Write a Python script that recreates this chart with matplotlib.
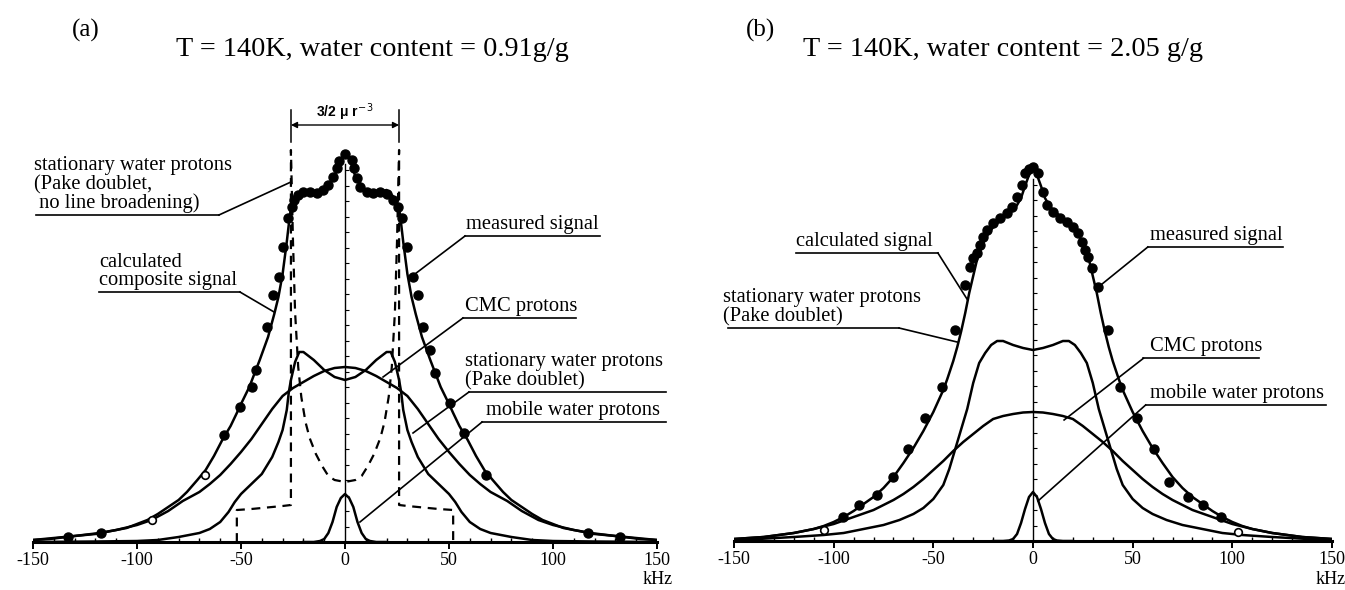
import numpy as np
import matplotlib
matplotlib.use("Agg")
import matplotlib.pyplot as plt
from matplotlib.ticker import MultipleLocator, FixedLocator

plt.rcParams["font.family"] = ["Liberation Serif", "DejaVu Serif"]
plt.rcParams["axes.unicode_minus"] = False

# Intensities are in arbitrary units.
# Symmetric lines are given for kHz >= 0 only and mirrored when drawn.

# ---- (a) T = 140K, water content = 0.91 g/g
a_comp_khz = [0, 3, 5, 9, 12, 16, 20, 23, 25, 26, 27, 28, 30, 32, 34, 37, 41, 46, 50, 52,
              55, 59, 63, 67, 71, 76, 80, 85, 90, 95, 100, 105, 110, 118, 126, 134, 142, 150]
a_comp = [389, 380, 365, 354, 349, 350, 352, 346, 340, 334, 318, 300, 268, 245, 228, 205, 182, 155, 138, 129,
          116, 102, 86, 72, 62, 50, 42, 35, 28, 22, 18, 14, 12, 9, 7, 5, 3, 2]

a_cmc_khz = [0, 5, 10, 15, 20, 25, 30, 35, 40, 45, 50, 55, 60, 65, 70, 78, 85, 93, 100, 110, 120, 130, 140, 150]
a_cmc = [175, 174, 171, 166, 160, 154, 146, 133, 118, 103, 90, 78, 67, 58, 50, 41, 31, 22, 17, 12, 8, 6, 4, 2]

a_pake_khz = [0, 5, 10, 15, 20, 22, 24, 26, 27, 28, 30, 32, 35, 40, 45, 50, 53, 56, 60, 65, 70, 80, 90, 100, 120, 150]
a_pake = [162, 165, 172, 182, 190, 190, 180, 162, 150, 132, 112, 100, 85, 68, 58, 48, 40, 30, 20, 13, 9, 5, 2, 1, 0.5, 0]

a_mobile_khz = [0, 2, 4, 6, 8, 10, 12, 15, 20]
a_mobile = [48, 44, 35, 20, 9, 3, 1, 0, 0]

# Pake doublet without line broadening (dashed), full path
a_ideal_khz = [-52, -52, -45, -40, -35, -30, -26, -26, -25, -24, -22.5, -21, -19, -17, -14, -11, -8, -5, 0,
               5, 8, 11, 14, 17, 19, 21, 22.5, 24, 25, 26, 26, 30, 35, 40, 45, 52, 52]
a_ideal = [0, 32, 33, 34, 35, 36, 37, 392, 300, 230, 175, 145, 120, 104, 88, 76, 66, 62, 60,
           62, 66, 76, 88, 104, 120, 145, 175, 230, 300, 392, 37, 36, 35, 34, 33, 32, 0]

a_meas_khz = [-133, -117.5, -58, -50.5, -44.5, -43, -37.6, -34.5, -31.7, -30, -27.2, -25.6, -24.5, -22.4, -20,
              -16.8, -13.6, -10.4, -8, -5.6, -4, -2.7, 0, 3.2, 4.4, 5.6, 7.2, 10.4, 13.6, 16.8, 20, 23.2,
              25.6, 27.2, 29.6, 32.8, 35.2, 37.6, 40.9, 43.3, 50.5, 57.2, 67.8, 117, 132]
a_meas = [5, 9, 107, 135, 155, 172, 215, 247, 265, 295, 324, 335, 342, 347, 350,
          350, 349, 352, 357, 365, 374, 381, 388, 382, 374, 364, 355, 350, 349, 350, 348, 342,
          335, 324, 295, 265, 247, 215, 192, 169, 139, 109, 67, 9, 5]
a_open_khz = [-92.8, -67.4]
a_open = [22, 67]

# ---- (b) T = 140K, water content = 2.05 g/g
b_comp_khz = [0, 2, 4, 6, 8, 10, 13, 16, 19, 22, 25, 28, 30, 32, 34, 36, 38, 40, 43, 45,
              50, 55, 60, 65, 70, 75, 80, 85, 90, 95, 100, 105, 110, 120, 135, 150]
b_comp = [374, 366, 355, 343, 336, 331, 326, 321, 316, 309, 298, 282, 265, 248, 228, 210, 194, 180, 162, 151,
          129, 110, 93, 78, 64, 53, 44, 37, 30, 24, 19, 15, 12, 8, 4, 2]

b_cmc_khz = [0, 5, 10, 15, 20, 25, 30, 35, 40, 45, 50, 55, 60, 65, 70, 80, 90, 100, 110, 120, 135, 150]
b_cmc = [129, 128.5, 127, 125, 122, 115, 107, 99, 90, 80, 71, 62, 54, 47, 41, 31, 24, 17, 12, 8, 4, 2]

b_pake_khz = [0, 5, 10, 15, 18, 21, 24, 27, 30, 33, 36, 39, 42, 45, 50, 55, 60, 67, 75, 85, 95, 105, 120, 138, 150]
b_pake = [191, 193, 196, 200, 200, 196, 188, 178, 158, 132, 112, 92, 72, 56, 42, 33, 27, 21, 16, 12, 8, 6, 4, 2, 1]

b_mobile_khz = [0, 2, 4, 6, 8, 10, 12, 15, 20]
b_mobile = [49, 44, 32, 18, 7, 2, 0.5, 0, 0]

b_meas_khz = [-95.1, -87.2, -78.3, -70.4, -62.9, -54.2, -45.7, -39.1, -34.1, -31.6, -29.9, -28.3, -26.6, -24.9,
              -22.9, -19.9, -16.6, -13.2, -10.7, -8.2, -5.7, -4, -2, 0, 2.7, 4.9, 6.9, 10.2, 13.5, 16.9,
              20.2, 22.7, 24.4, 26.1, 27.4, 29.5, 32.8, 37.8, 43.6, 52.2, 60.8, 68.3, 78, 85.5, 94.1]
b_meas = [24, 36, 46, 64, 92, 123, 154, 211, 256, 274, 283, 288, 296, 304,
          311, 318, 323, 328, 334, 344, 356, 368, 372, 374, 368, 349, 336, 329, 323, 319,
          314, 308, 299, 291, 284, 273, 254, 211, 154, 123, 92, 59, 44, 36, 24]
b_open_khz = [-104.8, 102.7]
b_open = [11, 9]

x_ticks = [-150, -100, -50, 0, 50, 100, 150]

W, H = 1345, 590
LW = 1.8
LABEL_FS = 14.8


def mirror(khz, val):
    khz = np.asarray(khz, float)
    val = np.asarray(val, float)
    return np.concatenate([-khz[:0:-1], khz]), np.concatenate([val[:0:-1], val])


def fig_xy(x, y):
    # pixel position in the 1345x590 picture -> figure fraction
    return x / W, 1 - y / H


def setup_axes(fig, left, right, base, top_center):
    ax = fig.add_axes([left / W, (H - base) / H, (right - left) / W, 442 / H])
    ax.set_xlim(-150, 150)
    ax.set_ylim(0, 442)
    for s in ["top", "right"]:
        ax.spines[s].set_visible(False)
    ax.spines["bottom"].set_linewidth(2.2)
    ax.spines["left"].set_position(("data", 0))
    ax.spines["left"].set_bounds(0, top_center)
    ax.spines["left"].set_linewidth(1.0)
    ax.xaxis.set_major_locator(FixedLocator(x_ticks))
    ax.xaxis.set_minor_locator(MultipleLocator(10))
    ax.set_xticklabels([str(t) for t in x_ticks])
    ax.tick_params(axis="x", which="major", direction="out", length=5, width=1.4,
                   labelsize=13, pad=2)
    ax.tick_params(axis="x", which="minor", direction="in", length=3, width=1.0)
    ax.yaxis.set_major_locator(FixedLocator(np.arange(15.5, top_center, 15.5)))
    ax.tick_params(axis="y", direction="in", length=3, width=0.8, labelleft=False)
    ax.patch.set_visible(False)
    return ax


def draw_lines(ax, curves):
    for khz, val in curves:
        x, y = mirror(khz, val)
        ax.plot(x, y, color="black", lw=LW, solid_joinstyle="round", zorder=3)


def draw_points(ax, khz, val, okhz, oval):
    ax.plot(khz, val, "o", color="black", ms=6.5, zorder=4, clip_on=False)
    ax.plot(okhz, oval, "o", mfc="white", mec="black", mew=1.2, ms=5.5, zorder=4)


def label(ax, text, x_text, y_line, x0, x1, tip, side):
    # underlined text with a leader line to the curve
    ax.text(x_text, y_line + 2, text, ha="left", va="bottom", fontsize=LABEL_FS,
            linespacing=0.95, clip_on=False)
    ax.plot([x0, x1], [y_line, y_line], color="black", lw=1.2, clip_on=False)
    start = x1 if side == "left" else x0
    ax.plot([start, tip[0]], [y_line, tip[1]], color="black", lw=1.2, clip_on=False)


fig = plt.figure(figsize=(W / 100, H / 100), dpi=100)

# ---------------- panel (a)
ax = setup_axes(fig, 33, 657, 542, 378)
draw_lines(ax, [(a_comp_khz, a_comp), (a_cmc_khz, a_cmc), (a_pake_khz, a_pake),
                (a_mobile_khz, a_mobile)])
ax.plot(a_ideal_khz, a_ideal, color="black", lw=1.6, linestyle=(0, (4, 3)), zorder=3)
draw_points(ax, a_meas_khz, a_meas, a_open_khz, a_open)

# 3/2 mu r^-3 bracket
for xb in (-26, 26):
    ax.plot([xb, xb], [400, 432], color="black", lw=1.1, clip_on=False)
ax.annotate("", xy=(-26, 417), xytext=(26, 417),
            arrowprops=dict(arrowstyle="<|-|>", lw=1.0, color="black",
                            shrinkA=0, shrinkB=0, mutation_scale=9))
ax.text(0, 430, "3/2 \u03bc r$^{-\\,3}$", ha="center", va="center", fontsize=10,
        family=["Liberation Sans", "DejaVu Sans"], fontweight="bold", clip_on=False)

label(ax, "stationary water protons\n(Pake doublet,\n no line broadening)",
      -149.5, 327, -148.6, -60.6, (-26, 360), "left")
label(ax, "calculated\ncomposite signal", -118.3, 250, -118.3, -50.5, (-34.1, 230), "left")
label(ax, "measured signal", 58.2, 306, 57.7, 122.6, (33.0, 267), "right")
label(ax, "CMC protons", 57.7, 224, 56.7, 111, (18.3, 165), "right")
label(ax, "stationary water protons\n(Pake doublet)", 57.7, 150, 59.6, 154.3, (32.7, 109), "right")
label(ax, "mobile water protons", 67.8, 120, 65.9, 154.3, (7.2, 20), "right")

# ---------------- panel (b)
bx = setup_axes(fig, 734, 1332, 541, 362)
draw_lines(bx, [(b_comp_khz, b_comp), (b_cmc_khz, b_cmc), (b_pake_khz, b_pake),
                (b_mobile_khz, b_mobile)])
draw_points(bx, b_meas_khz, b_meas, b_open_khz, b_open)

label(bx, "calculated signal", -118.9, 288, -118.9, -47.7, (-32.8, 241), "left")
label(bx, "stationary water protons\n(Pake doublet)", -155.7, 213, -153, -67.2, (-38.1, 199), "left")
label(bx, "measured signal", 58.7, 294, 57.6, 125.4, (32.8, 254), "right")
label(bx, "CMC protons", 58.7, 182.7, 55.4, 113.4, (15.6, 121), "right")
label(bx, "mobile water protons", 58.7, 136, 56.5, 146.8, (2.5, 40), "right")

# ---------------- titles and unit labels
fig.text(*fig_xy(86, 30), "(a)", ha="center", va="center", fontsize=18)
fig.text(*fig_xy(372, 50), "T = 140K, water content = 0.91g/g", ha="center", va="center", fontsize=20.3)
fig.text(*fig_xy(760, 30), "(b)", ha="center", va="center", fontsize=18)
fig.text(*fig_xy(1003, 50), "T = 140K, water content = 2.05 g/g", ha="center", va="center", fontsize=20.3)
fig.text(*fig_xy(658, 580), "kHz", ha="center", va="center", fontsize=13)
fig.text(*fig_xy(1331, 580), "kHz", ha="center", va="center", fontsize=13)

fig.savefig("out.png", dpi=100)
plt.close(fig)
